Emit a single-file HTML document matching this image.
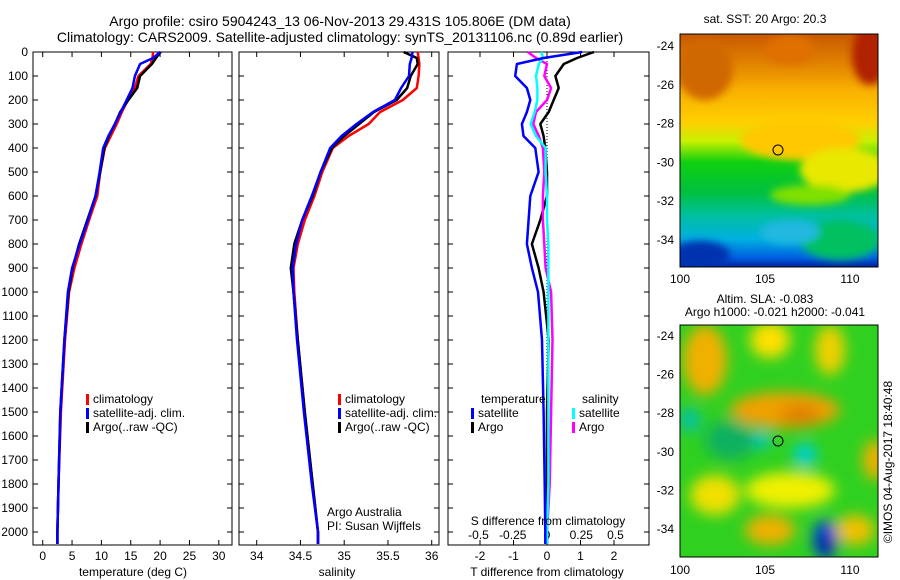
<!DOCTYPE html>
<html><head><meta charset="utf-8"><style>
body{margin:0;background:#fff;}
svg{display:block;font-family:"Liberation Sans",sans-serif;}
text{fill:#000;}
</style></head><body>
<svg id="chart" width="900" height="580" viewBox="0 0 900 580">
<defs>
<linearGradient id="sstGrad" x1="0" y1="0" x2="0" y2="1">
<stop offset="0" stop-color="#c85800"/><stop offset="0.12" stop-color="#e08000"/>
<stop offset="0.24" stop-color="#f8b000"/><stop offset="0.38" stop-color="#ffd000"/>
<stop offset="0.46" stop-color="#c8f000"/><stop offset="0.55" stop-color="#10d010"/>
<stop offset="0.68" stop-color="#00c040"/><stop offset="0.78" stop-color="#00c0a0"/>
<stop offset="0.88" stop-color="#00b0e0"/><stop offset="0.96" stop-color="#0060e0"/>
<stop offset="1" stop-color="#0020a0"/></linearGradient>
<filter id="blur" x="-20%" y="-20%" width="140%" height="140%"><feGaussianBlur stdDeviation="7"/></filter>
<filter id="blur2"><feGaussianBlur stdDeviation="4"/></filter>
<clipPath id="clipSst"><rect x="680" y="34" width="198" height="233"/></clipPath>
<clipPath id="clipSla"><rect x="680" y="325" width="198" height="232"/></clipPath>
</defs>
<text x="340" y="26" font-size="14" text-anchor="middle">Argo profile: csiro 5904243_13 06-Nov-2013 29.431S 105.806E (DM data)</text>
<text x="340" y="42" font-size="14" text-anchor="middle">Climatology: CARS2009. Satellite-adjusted climatology: synTS_20131106.nc (0.89d earlier)</text>
<g id="plots"></g>

<!-- SST map -->
<g clip-path="url(#clipSst)">
<rect x="680" y="34" width="198" height="233" fill="url(#sstGrad)"/>
<g filter="url(#blur2)">
<ellipse cx="870" cy="55" rx="18" ry="30" fill="#b02000"/>
<ellipse cx="705" cy="70" rx="28" ry="30" fill="#d06800"/>
<ellipse cx="790" cy="50" rx="25" ry="15" fill="#e07000"/>
<ellipse cx="800" cy="140" rx="60" ry="20" fill="#ffc800"/>
<ellipse cx="845" cy="170" rx="45" ry="22" fill="#e8e800"/>
<ellipse cx="810" cy="195" rx="40" ry="10" fill="#80e000"/>
<ellipse cx="700" cy="255" rx="30" ry="14" fill="#0030b0"/>
<ellipse cx="840" cy="240" rx="40" ry="20" fill="#00c060"/>
<ellipse cx="790" cy="232" rx="30" ry="12" fill="#20b8e0"/>
</g>
</g>
<rect x="680" y="34" width="198" height="233" fill="none" stroke="#000"/>
<circle cx="778" cy="150" r="5" fill="none" stroke="#000"/>
<text x="765" y="23" font-size="12" text-anchor="middle">sat. SST: 20 Argo: 20.3</text>
<text x="765" y="303" font-size="12" text-anchor="middle">Altim. SLA: -0.083</text>
<text x="775" y="316" font-size="12" text-anchor="middle">Argo h1000: -0.021 h2000: -0.041</text>

<!-- SLA map -->
<g clip-path="url(#clipSla)">
<rect x="680" y="325" width="198" height="232" fill="#30d020"/>
<g filter="url(#blur)">
<ellipse cx="705" cy="360" rx="22" ry="35" fill="#f0b000"/>
<ellipse cx="770" cy="340" rx="20" ry="18" fill="#ffe000"/>
<ellipse cx="830" cy="350" rx="15" ry="25" fill="#f0d000"/>
<ellipse cx="785" cy="410" rx="55" ry="18" fill="#f0a000"/>
<ellipse cx="800" cy="415" rx="20" ry="10" fill="#e08000"/>
<ellipse cx="760" cy="440" rx="12" ry="8" fill="#00c8c8"/>
<ellipse cx="805" cy="455" rx="12" ry="12" fill="#00d0d0"/>
<ellipse cx="730" cy="440" rx="25" ry="20" fill="#10b060"/>
<ellipse cx="875" cy="460" rx="12" ry="20" fill="#f0b000"/>
<ellipse cx="715" cy="495" rx="25" ry="20" fill="#f0e000"/>
<ellipse cx="790" cy="490" rx="45" ry="18" fill="#f0f000"/>
<ellipse cx="770" cy="530" rx="25" ry="15" fill="#f0b000"/>
<ellipse cx="855" cy="530" rx="20" ry="15" fill="#f0c000"/>
<ellipse cx="825" cy="540" rx="12" ry="20" fill="#0040e0"/>
<ellipse cx="825" cy="545" rx="6" ry="10" fill="#001880"/>
<ellipse cx="690" cy="420" rx="10" ry="12" fill="#00c0b0"/>
</g>
</g>
<rect x="680" y="325" width="198" height="232" fill="none" stroke="#000"/>
<circle cx="778" cy="441" r="5" fill="none" stroke="#000"/>
<text transform="translate(892,462) rotate(-90)" font-size="12" text-anchor="middle">©IMOS 04-Aug-2017 18:40:48</text>
</svg>
<script>
// depth levels (dbar)
const depths = [0,25,50,100,150,200,250,300,350,400,500,600,700,800,900,1000,1200,1500,1800,2000,2050];
const tempClim = [18.8,18.7,18.4,16.3,15.7,14.5,13.5,12.6,11.6,10.6,9.8,9.3,7.9,6.6,5.4,4.5,3.8,3.1,2.7,2.5,2.5];
const tempSat  = [20.0,18.8,16.6,15.7,15.3,14.3,13.3,12.3,11.2,10.3,9.7,9.0,7.7,6.3,5.0,4.3,3.7,3.0,2.7,2.5,2.5];
const tempArgo = [20.1,19.3,18.6,16.6,16.1,14.6,13.2,12.3,11.3,10.5,9.8,9.0,7.6,6.2,5.1,4.4,3.7,3.0,2.7,2.5,2.5];
const salClim  = [35.84,35.85,35.86,35.85,35.83,35.67,35.41,35.28,35.05,34.87,34.75,34.66,34.55,34.47,34.42,34.43,34.47,34.55,34.64,34.70,34.70];
const salSat   = [35.78,35.77,35.75,35.74,35.65,35.58,35.33,35.14,34.97,34.84,34.73,34.63,34.52,34.45,34.41,34.42,34.46,34.54,34.63,34.70,34.70];
const salArgo  = [35.68,35.83,35.84,35.76,35.72,35.60,35.34,35.17,35.0,34.86,34.73,34.64,34.52,34.43,34.39,34.42,34.47,34.55,34.64,34.70,34.70];
const tDiffSat  = [1.05,-0.1,-0.9,-0.95,-0.6,-0.5,-0.6,-0.75,-0.7,-0.35,-0.25,-0.5,-0.55,-0.6,-0.45,-0.27,-0.15,-0.1,-0.07,-0.05,-0.05];
const tDiffArgo = [1.4,0.9,0.5,0.25,0.35,0.2,0.05,-0.2,-0.1,-0.05,0.0,0.0,-0.2,-0.45,-0.25,-0.1,0.05,0.0,0.0,0.0,0.0];
const sDiffSat  = [-0.04,-0.03,-0.06,-0.08,-0.07,-0.07,-0.09,-0.12,-0.08,-0.01,-0.01,0.0,0.0,0.01,0.01,0.01,0.01,0.01,0.01,0.0,0.0];
const sDiffArgo = [-0.14,-0.08,0.0,-0.02,0.03,0.0,-0.08,-0.1,-0.06,-0.03,-0.02,-0.03,-0.03,-0.02,-0.01,0.03,0.04,0.03,0.02,0.0,0.0];
const depthTicks = [0,100,200,300,400,500,600,700,800,900,1000,1100,1200,1300,1400,1500,1600,1700,1800,1900,2000];
const tempTicks = [0,5,10,15,20,25,30];
const salTicks = [34,34.5,35,35.5,36];
const tDiffTicks = [-2,-1,0,1,2];
const sDiffTicks = [-0.5,-0.25,0,0.25,0.5];

const NS='http://www.w3.org/2000/svg';
const root=document.getElementById('plots');
function el(tag,attrs,parent){const e=document.createElementNS(NS,tag);for(const k in attrs)e.setAttribute(k,attrs[k]);(parent||root).appendChild(e);return e;}
const TOP=52,BOT=545;
const yS=d=>TOP+d*0.24;
const xTemp=v=>42.7+v*5.87;
const xSal=v=>256.7+(v-34)*87.5;
const xTD=v=>547+v*33.5;
const xSD=v=>547+v*137;
const panels=[{x0:33,x1:232,name:'temperature-panel'},{x0:239,x1:439,name:'salinity-panel'},{x0:448,x1:649,name:'difference-panel'}];

panels.forEach((p,i)=>{
  const r=el('rect',{x:p.x0,y:TOP,width:p.x1-p.x0,height:BOT-TOP,fill:'none',stroke:'#000'});
  
  
  depthTicks.forEach(d=>{
    const y=yS(d);
    el('line',{x1:p.x0,x2:p.x0+5,y1:y,y2:y,stroke:'#000'});
    el('line',{x1:p.x1-5,x2:p.x1,y1:y,y2:y,stroke:'#000'});
    if(i===0){
      const t=el('text',{x:28,y:y+4,'font-size':12,'text-anchor':'end'});t.textContent=d;
      
      
    }
  });
});
function xTicks(vals,fx,y,labelY,name){
  vals.forEach(v=>{const x=fx(v);
    el('line',{x1:x,x2:x,y1:BOT,y2:BOT-5,stroke:'#000'});
    el('line',{x1:x,x2:x,y1:TOP,y2:TOP+5,stroke:'#000'});
    const t=el('text',{x:x,y:labelY,'font-size':12,'text-anchor':'middle'});t.textContent=v;
    
    
  });
}
xTicks(tempTicks,xTemp,BOT,560,'temperature-tick-label');
xTicks(salTicks,xSal,BOT,560,'salinity-tick-label');
tDiffTicks.forEach(v=>{const x=xTD(v);
  el('line',{x1:x,x2:x,y1:BOT,y2:BOT-5,stroke:'#000'});el('line',{x1:x,x2:x,y1:TOP,y2:TOP+5,stroke:'#000'});
  const t=el('text',{x:x,y:560,'font-size':12,'text-anchor':'middle'});t.textContent=v;
  
  
});
sDiffTicks.forEach(v=>{const x=xSD(v);
  const t=el('text',{x:x,y:539,'font-size':12,'text-anchor':'middle'});t.textContent=v;
  
  
});
const zl=el('line',{x1:xTD(0),x2:xTD(0),y1:TOP,y2:BOT,stroke:'#000','stroke-dasharray':'1,2'});



function series(vals,fx,color,name,w){
  const pts=vals.map((v,k)=>fx(v).toFixed(1)+','+yS(depths[k]).toFixed(1)).join(' ');
  const pl=el('polyline',{points:pts,fill:'none',stroke:color,'stroke-width':w||2.5,'stroke-linejoin':'round'});
  
  
}
series(tempClim,xTemp,'#ff0000','temp-climatology-line');
series(tempArgo,xTemp,'#000000','temp-argo-line');
series(tempSat,xTemp,'#0000ff','temp-satellite-line');
series(salClim,xSal,'#ff0000','sal-climatology-line');
series(salArgo,xSal,'#000000','sal-argo-line');
series(salSat,xSal,'#0000ff','sal-satellite-line');
series(tDiffArgo,xTD,'#000000','tdiff-argo-line');
series(sDiffArgo,xSD,'#ff00ff','sdiff-argo-line');
series(sDiffSat,xSD,'#00ffff','sdiff-satellite-line');
series(tDiffSat,xTD,'#0000ff','tdiff-satellite-line');

function txt(x,y,s,name,anchor,size){const t=el('text',{x:x,y:y,'font-size':size||12,'text-anchor':anchor||'start'});t.textContent=s;
  
  return t;}
function legend(x,y,color,label,name){
  const b=el('rect',{x:x,y:y-9,width:3,height:11,fill:color});
  
  
  txt(x+7,y,label,name);
}
[[86,'p1'],[338,'p2']].forEach(([lx,pn])=>{
  legend(lx,403,'#ff0000','climatology',pn+'-legend-climatology');
  legend(lx,417,'#0000ff','satellite-adj. clim.',pn+'-legend-satellite');
  legend(lx,431,'#000000','Argo(..raw -QC)',pn+'-legend-argo');
});
txt(481,403,'temperature','legend-temperature-heading');
legend(471,417,'#0000ff','satellite','legend-tdiff-satellite');
legend(471,431,'#000000','Argo','legend-tdiff-argo');
txt(582,403,'salinity','legend-salinity-heading');
legend(572,417,'#00ffff','satellite','legend-sdiff-satellite');
legend(572,431,'#ff00ff','Argo','legend-sdiff-argo');
txt(327,516,'Argo Australia','credit-line-1');
txt(327,530,'PI: Susan Wijffels','credit-line-2');
txt(548,525,'S difference from climatology','sdiff-axis-title','middle');
txt(133,576,'temperature (deg C)','temperature-axis-title','middle');
txt(337,576,'salinity','salinity-axis-title','middle');
txt(547,576,'T difference from climatology','tdiff-axis-title','middle');

const lonTicks=[100,105,110];
const latTicks=[-24,-26,-28,-30,-32,-34];
function mapAxes(y0,y1,latY,lonScale,labelY,prefix){
  lonTicks.forEach(v=>{const x=lonScale(v);
    el('line',{x1:x,x2:x,y1:y0,y2:y0+4,stroke:'#000'});el('line',{x1:x,x2:x,y1:y1,y2:y1-4,stroke:'#000'});
    txt(x,labelY,v,prefix+'-lon-tick-label','middle');});
  latTicks.forEach(v=>{const y=latY(v);
    el('line',{x1:680,x2:684,y1:y,y2:y,stroke:'#000'});el('line',{x1:874,x2:878,y1:y,y2:y,stroke:'#000'});
    txt(674,y+4,v,prefix+'-lat-tick-label','end');});
}
const lonS=v=>680+(v-100)*17;
mapAxes(34,267,v=>46+(-24-v)*19.4,lonS,283,'sst');
mapAxes(325,557,v=>336+(-24-v)*19.3,lonS,574,'sla');
</script>
</body></html>
